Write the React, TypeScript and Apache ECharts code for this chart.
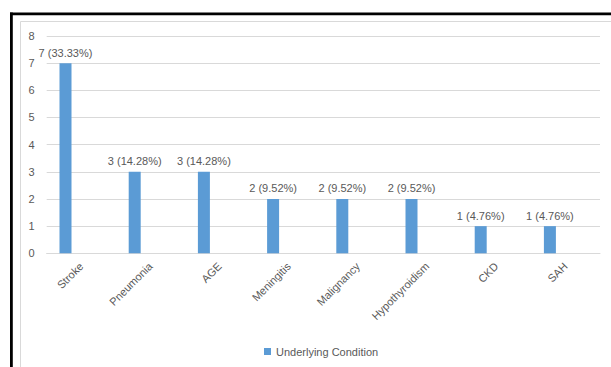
import React, { useEffect, useRef } from "react";
import * as echarts from "echarts";

const categories = ["Stroke", "Pneumonia", "AGE", "Meningitis", "Malignancy", "Hypothyroidism", "CKD", "SAH"];
const counts = [7, 3, 3, 2, 2, 2, 1, 1];
const percents = ["33.33%", "14.28%", "14.28%", "9.52%", "9.52%", "9.52%", "4.76%", "4.76%"];
const seriesName = "Underlying Condition";
const yMax = 8;
const yStep = 1;

export default function App() {
  const ref = useRef<HTMLDivElement>(null);
  useEffect(() => {
    if (!ref.current) return;
    const chart = echarts.init(ref.current, null, { renderer: "svg" });
    const font = "'Liberation Sans', Arial, sans-serif";
    const grey = "#595959";
    chart.setOption({
      animation: false,
      backgroundColor: "#ffffff",
      textStyle: { fontFamily: font },
      graphic: [
        { type: "line", shape: { x1: 20.5, y1: 21.5, x2: 611, y2: 21.5 }, style: { stroke: "#d9d9d9", lineWidth: 1 } },
        { type: "line", shape: { x1: 20.5, y1: 21.5, x2: 20.5, y2: 367 }, style: { stroke: "#d9d9d9", lineWidth: 1 } },
        { type: "rect", shape: { x: 10, y: 12.5, width: 601, height: 2.7 }, style: { fill: "#000000" } },
        { type: "rect", shape: { x: 10, y: 12.5, width: 2.8, height: 355 }, style: { fill: "#000000" } },
      ],
      legend: {
        left: 259,
        top: 341,
        itemWidth: 7,
        itemHeight: 7,
        itemGap: 4,
        textStyle: { color: grey, fontSize: 11, fontFamily: font },
        data: [{ name: seriesName, icon: "rect" }],
      },
      grid: [
        { left: 46.7, right: 11, top: 36, bottom: 113.7 },
        { left: 30.9, width: 553.6, top: 36, bottom: 113.7 },
      ],
      xAxis: [
        {
          type: "category",
          gridIndex: 0,
          data: categories,
          axisLine: { show: true, lineStyle: { color: "#d9d9d9" } },
          axisTick: { show: false },
          axisLabel: { rotate: 45, margin: 11, color: grey, fontSize: 11, fontFamily: font, interval: 0 },
        },
        {
          type: "category",
          gridIndex: 1,
          data: categories,
          axisLine: { show: false },
          axisTick: { show: false },
          axisLabel: { show: false },
        },
      ],
      yAxis: [
        {
          type: "value",
          gridIndex: 0,
          min: 0,
          max: yMax,
          interval: yStep,
          axisLine: { show: false },
          axisTick: { show: false },
          axisLabel: { color: grey, fontSize: 11, fontFamily: font, margin: 12 },
          splitLine: { lineStyle: { color: "#d9d9d9" } },
        },
        {
          type: "value",
          gridIndex: 1,
          min: 0,
          max: yMax,
          interval: yStep,
          axisLine: { show: false },
          axisTick: { show: false },
          axisLabel: { show: false },
          splitLine: { show: false },
        },
      ],
      series: [
        {
          name: seriesName,
          type: "bar",
          xAxisIndex: 1,
          yAxisIndex: 1,
          barWidth: 12,
          data: counts,
          itemStyle: { color: "#5b9bd5" },
          label: {
            show: true,
            position: "top",
            distance: 5,
            color: grey,
            fontSize: 11,
            fontFamily: font,
            formatter: (p: any) => `${counts[p.dataIndex]} (${percents[p.dataIndex]})`,
          },
        },
      ],
    });
    return () => chart.dispose();
  }, []);
  return (
    <div
      ref={ref}
      style={{ position: "absolute", left: 0, top: 0, width: 611, height: 367 }}
    />
  );
}
